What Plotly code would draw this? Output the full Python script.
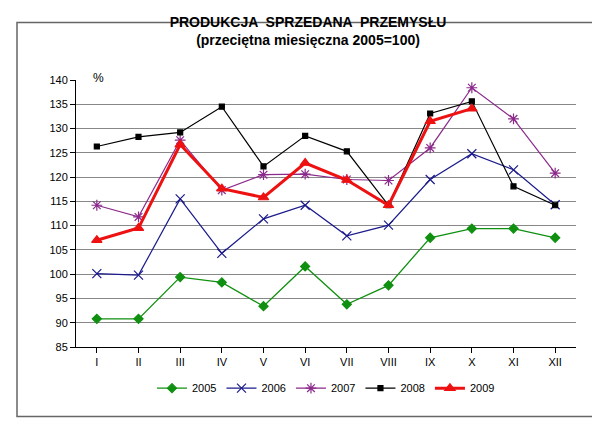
import plotly.graph_objects as go

months = ["I", "II", "III", "IV", "V", "VI", "VII", "VIII", "IX", "X", "XI", "XII"]
y2005 = [90.8, 90.8, 99.4, 98.3, 93.4, 101.6, 93.8, 97.7, 107.5, 109.4, 109.4, 107.5]
y2006 = [100.1, 99.8, 115.5, 104.3, 111.4, 114.2, 107.9, 110.1, 119.5, 124.8, 121.5, 114.3]
y2007 = [114.2, 111.8, 127.6, 117.3, 120.5, 120.6, 119.5, 119.3, 126.0, 138.4, 132.0, 120.8]
y2008 = [126.3, 128.3, 129.2, 134.5, 122.2, 128.5, 125.3, 114.2, 133.1, 135.6, 118.1, 114.2]
y2009 = [107.0, 109.5, 126.7, 117.6, 115.8, 122.9, 119.4, 114.2, 131.5, 134.1]

fig = go.Figure()
series = [
    ("2005", y2005, "#109010", "diamond", 7, 1.3),
    ("2006", y2006, "#1a1a8c", "x-thin-open", 9, 1.2),
    ("2007", y2007, "#8b2a8b", "asterisk-open", 9, 1.2),
    ("2008", y2008, "#000000", "square", 5, 1.2),
    ("2009", y2009, "#ee1111", "triangle-up", 9, 3),
]
for name, ys, col, sym, sz, w in series:
    fig.add_trace(go.Scatter(
        x=months[:len(ys)], y=ys, name=name, mode="lines+markers",
        line=dict(color=col, width=w),
        marker=dict(symbol=sym, size=sz, color=col, line=dict(color=col, width=1.2)),
    ))

fig.update_layout(
    width=600, height=421,
    paper_bgcolor="white", plot_bgcolor="white",
    font=dict(family="Arial, Liberation Sans", size=11, color="black"),
    title=dict(text="<b>PRODUKCJA  SPRZEDANA  PRZEMYSŁU<br>(przeciętna miesięczna 2005=100)</b>",
               x=0.5, y=0.955, xanchor="center", font=dict(size=14)),
    margin=dict(l=68, r=32, t=72, b=82),
    legend=dict(orientation="h", x=0.5, xanchor="center", y=-0.1, yanchor="top",
                font=dict(size=11)),
    showlegend=True,
)
fig.update_xaxes(showline=True, linecolor="black", ticks="outside", tickcolor="black",
                 range=[-0.5, 11.5])
fig.update_yaxes(range=[85, 140], dtick=5, showgrid=True, gridcolor="#888888",
                 showline=True, linecolor="black", ticks="outside", tickcolor="black")
fig.add_annotation(text="%", xref="paper", yref="paper", x=0.03, y=1.04,
                   showarrow=False, font=dict(size=12))
fig.add_shape(type="rect", xref="paper", yref="paper", x0=-0.118, y0=-0.26, x1=1.046, y1=1.215,
              line=dict(color="#666666", width=1.5), layer="above")
fig.write_html("out.html")
